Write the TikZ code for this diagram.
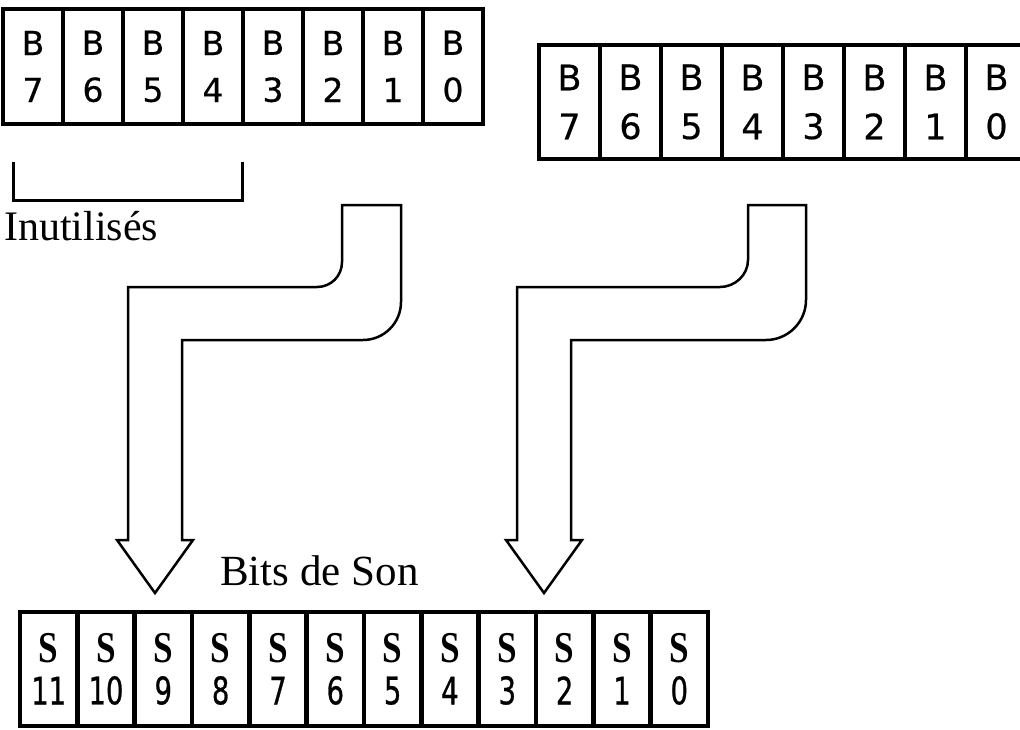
\documentclass[tikz,border=0pt]{standalone}
\usepackage{fontspec}
\setmainfont{Liberation Serif}
\newfontfamily\regfont[FakeBold=0.5]{DejaVu Sans}
\newfontfamily\narrowfont[FakeStretch=0.72,FakeBold=0.7]{DejaVu Sans}
\newfontfamily\sonfont[FakeStretch=0.8]{Liberation Serif}
\usetikzlibrary{positioning}
\newcommand{\sbit}[1]{{\sonfont\bfseries\fontsize{44}{42}\selectfont S}\\#1}
\tikzset{
  hicell/.style={rectangle,draw=black,line width=4.5pt,fill=white,outer sep=0pt,inner sep=0pt,
    minimum width=60pt,minimum height=115pt,align=center,font=\regfont\fontsize{33}{47}\selectfont},
  locell/.style={hicell,minimum width=61pt,minimum height=114pt,font=\regfont\fontsize{35}{49}\selectfont},
  soncell/.style={hicell,minimum width=57.33pt,minimum height=114pt,font=\narrowfont\fontsize{38}{42}\selectfont},
  blockarrow/.style={draw=black,line width=2.5pt,fill=white,line join=miter},
  bracket/.style={draw=black,line width=3pt},
  lbl/.style={font=\fontsize{42}{46}\selectfont,inner sep=0pt,anchor=base west}
}
\begin{document}
\begin{tikzpicture}[x=1pt,y=-1pt,node distance=0pt]
  \useasboundingbox (0,0) rectangle (1020,729);
  \clip (0,0) rectangle (1020,729);
  \fill[white] (0,0) rectangle (1020,729);

  % first register
  \node[hicell] (hi7) at (33,66.5) {B\\7};
  \node[hicell,right=of hi7] (hi6) {B\\6};
  \node[hicell,right=of hi6] (hi5) {B\\5};
  \node[hicell,right=of hi5] (hi4) {B\\4};
  \node[hicell,right=of hi4] (hi3) {B\\3};
  \node[hicell,right=of hi3] (hi2) {B\\2};
  \node[hicell,right=of hi2] (hi1) {B\\1};
  \node[hicell,right=of hi1] (hi0) {B\\0};

  % second register
  \node[locell] (lo7) at (569.5,102) {B\\7};
  \node[locell,right=of lo7] (lo6) {B\\6};
  \node[locell,right=of lo6] (lo5) {B\\5};
  \node[locell,right=of lo5] (lo4) {B\\4};
  \node[locell,right=of lo4] (lo3) {B\\3};
  \node[locell,right=of lo3] (lo2) {B\\2};
  \node[locell,right=of lo2] (lo1) {B\\1};
  \node[locell,right=of lo1] (lo0) {B\\0};

  % unused bits
  \draw[bracket] (13,162) -- (13,200) -- (242,200) -- (242,162);
  \node[lbl] (unused) at (4,240) {Inutilisés};

  % bent arrows
  \draw[blockarrow] (342,205) -- (401,205) -- (401,302)
    .. controls (401,323) and (384,340) .. (363,340) -- (182,340) -- (182,540)
    -- (193,540) -- (155,593) -- (117,540) -- (128,540) -- (128,287) -- (317,287)
    .. controls (331,287) and (342,276) .. (342,262) -- cycle;
  \draw[blockarrow] (748,205) -- (806,205) -- (806,300)
    .. controls (806,322) and (788,340) .. (766,340) -- (571,340) -- (571,540)
    -- (582,540) -- (544,593) -- (506,540) -- (517,540) -- (517,287) -- (720,287)
    .. controls (735,287) and (748,275) .. (748,260) -- cycle;

  % sound register
  \node[lbl,font=\fontsize{43}{46}\selectfont] (sonlabel) at (220,585) {Bits de Son};
  \node[soncell] (son11) at (48.67,669) {\sbit{11}};
  \node[soncell,right=of son11] (son10) {\sbit{10}};
  \node[soncell,right=of son10] (son9) {\sbit{9}};
  \node[soncell,right=of son9] (son8) {\sbit{8}};
  \node[soncell,right=of son8] (son7) {\sbit{7}};
  \node[soncell,right=of son7] (son6) {\sbit{6}};
  \node[soncell,right=of son6] (son5) {\sbit{5}};
  \node[soncell,right=of son5] (son4) {\sbit{4}};
  \node[soncell,right=of son4] (son3) {\sbit{3}};
  \node[soncell,right=of son3] (son2) {\sbit{2}};
  \node[soncell,right=of son2] (son1) {\sbit{1}};
  \node[soncell,right=of son1] (son0) {\sbit{0}};
\end{tikzpicture}
\end{document}
